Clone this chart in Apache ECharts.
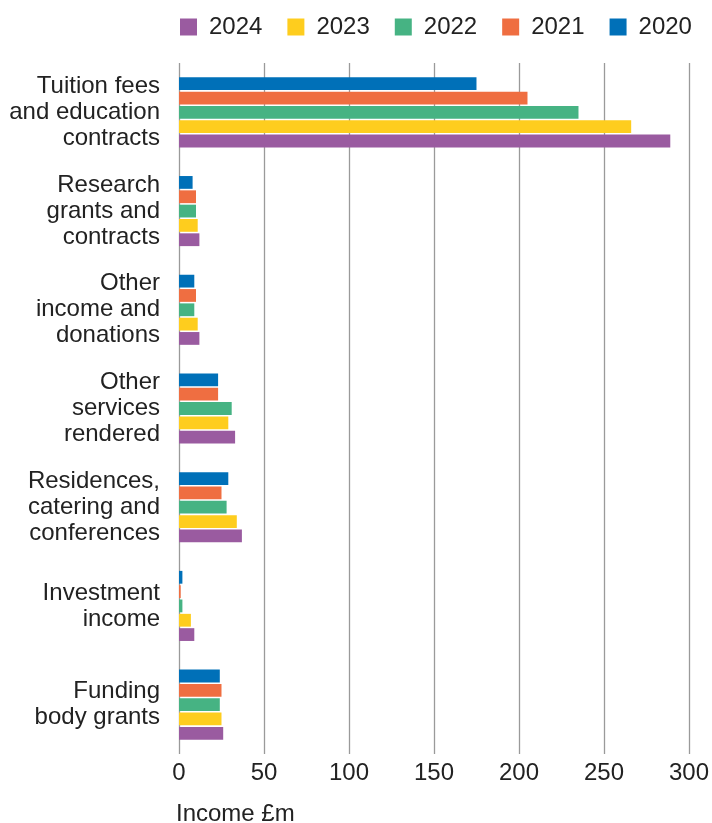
<!DOCTYPE html>
<html>
<head>
<meta charset="utf-8">
<script src="https://cdn.jsdelivr.net/npm/echarts@6/dist/echarts.min.js"></script>
<style>
html,body{margin:0;padding:0;background:#fff;}
#chart{width:712px;height:823px;}
</style>
</head>
<body>
<div id="chart"></div>
<script>
var categories = [
  "Tuition fees\nand education\ncontracts",
  "Research\ngrants and\ncontracts",
  "Other\nincome and\ndonations",
  "Other\nservices\nrendered",
  "Residences,\ncatering and\nconferences",
  "Investment\nincome",
  "Funding\nbody grants"
];
var years = ["2020", "2021", "2022", "2023", "2024"];
var values2020 = [175, 8, 9, 23, 29, 2, 24];
var values2021 = [205, 10, 10, 23, 25, 1, 25];
var values2022 = [235, 10, 9, 31, 28, 2, 24];
var values2023 = [266, 11, 11, 29, 34, 7, 25];
var values2024 = [289, 12, 12, 33, 37, 9, 26];
var colors = {"2020": "#0070B8", "2021": "#EF6E41", "2022": "#46B383", "2023": "#FECD1E", "2024": "#9A5BA0"};
var xTicks = {min: 0, max: 300, interval: 50};
var xAxisTitle = "Income £m";

var seriesValues = {"2020": values2020, "2021": values2021, "2022": values2022, "2023": values2023, "2024": values2024};
var FONT = "'Liberation Sans', Arial, sans-serif";
var chart = echarts.init(document.getElementById('chart'), null, {renderer: 'canvas'});
var option = {
  animation: false,
  backgroundColor: '#ffffff',
  textStyle: {fontFamily: FONT},
  title: {
    text: xAxisTitle,
    left: 171,
    top: 797,
    textStyle: {fontFamily: FONT, fontSize: 24, fontWeight: 'normal', color: '#222'}
  },
  legend: {
    data: years.slice().reverse(),
    left: 175,
    top: 10,
    icon: 'rect',
    itemWidth: 17,
    itemHeight: 17,
    itemGap: 25,
    textStyle: {fontFamily: FONT, fontSize: 24, color: '#222', padding: [0, 0, 0, 7]}
  },
  grid: {left: 179, right: 20, top: 63, bottom: 69, containLabel: false},
  xAxis: {
    type: 'value',
    min: xTicks.min,
    max: xTicks.max,
    interval: xTicks.interval,
    axisLine: {show: false},
    axisTick: {show: false},
    splitLine: {show: true, lineStyle: {color: '#9a9a9a', width: 1.3}},
    axisLabel: {fontFamily: FONT, fontSize: 24, color: '#222', margin: 7}
  },
  yAxis: {
    type: 'category',
    data: categories,
    inverse: true,
    axisLine: {show: false},
    axisTick: {show: false},
    splitLine: {show: false},
    axisLabel: {fontFamily: FONT, fontSize: 24, color: '#222', margin: 19, lineHeight: 26, align: 'right'}
  },
  series: years.map(function (y) {
    return {
      name: y,
      type: 'bar',
      data: seriesValues[y],
      itemStyle: {color: colors[y]},
      barGap: '12%',
      barCategoryGap: '29%'
    };
  })
};
chart.setOption(option);
</script>
</body>
</html>
